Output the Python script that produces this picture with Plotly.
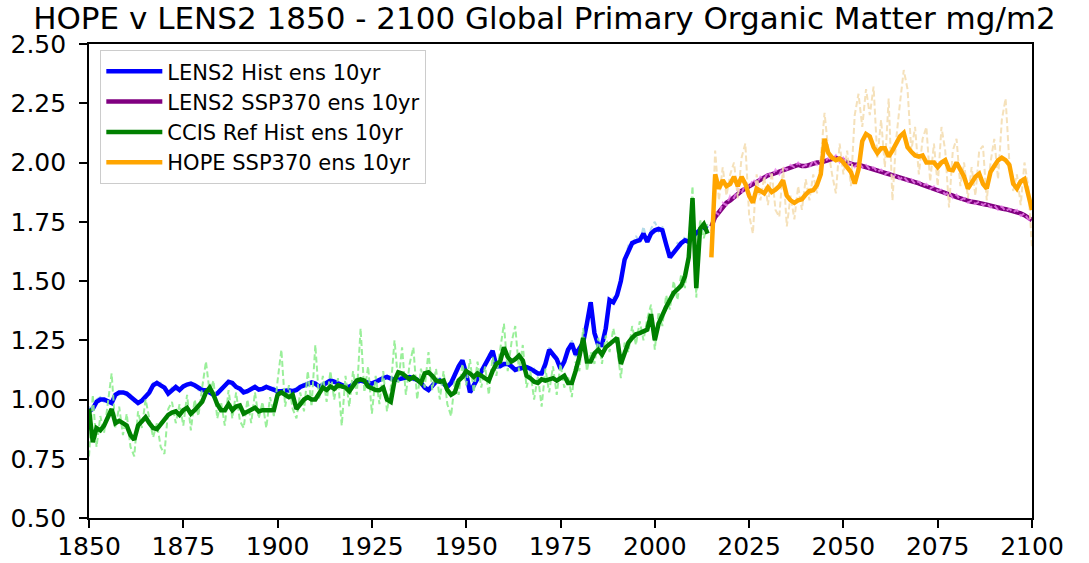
import plotly.graph_objects as go

# ---- data -------------------------------------------------------------
hist_years = list(range(1850, 2015))
ssp_years = list(range(2015, 2101))

lens2_hist_10yr = [
    0.95, 0.96, 0.99, 1.00, 1.00, 0.99, 0.985, 1.02, 1.03, 1.03,
    1.025, 1.012, 1.00, 0.985, 0.995, 1.01, 1.03, 1.06, 1.07, 1.06,
    1.05, 1.025, 1.04, 1.053, 1.04, 1.055, 1.063, 1.067, 1.06, 1.05,
    1.04, 1.039, 1.03, 1.02, 1.025, 1.04, 1.06, 1.075, 1.07, 1.053,
    1.046, 1.03, 1.035, 1.046, 1.053, 1.042, 1.045, 1.053, 1.046, 1.042,
    1.035, 1.035, 1.039, 1.039, 1.035, 1.04, 1.053, 1.06, 1.07, 1.072,
    1.067, 1.055, 1.06, 1.07, 1.08, 1.075, 1.067, 1.06, 1.055, 1.053,
    1.065, 1.075, 1.08, 1.075, 1.07, 1.067, 1.075, 1.085, 1.09, 1.095,
    1.09, 1.082, 1.085, 1.09, 1.093, 1.095, 1.09, 1.083, 1.07, 1.05,
    1.04, 1.06, 1.075, 1.08, 1.065, 1.053, 1.07, 1.11, 1.14, 1.165,
    1.11, 1.03, 1.06, 1.09, 1.12, 1.15, 1.18, 1.205, 1.14, 1.14,
    1.15, 1.15, 1.14, 1.125, 1.13, 1.135, 1.137, 1.13, 1.12, 1.11,
    1.11, 1.15, 1.21, 1.19, 1.17, 1.13, 1.16, 1.21, 1.236, 1.19,
    1.215, 1.24, 1.32, 1.41, 1.28, 1.23, 1.23, 1.30, 1.42, 1.41,
    1.44, 1.50, 1.59, 1.63, 1.66, 1.667, 1.672, 1.70, 1.665, 1.70,
    1.714, 1.72, 1.714, 1.655, 1.60, 1.62, 1.64, 1.66, 1.672, 1.665,
    1.69, 1.70, 1.715, 1.728, 1.72,
]

lens2_hist_annual = [
    0.97, 0.95, 1.00, 1.01, 0.99, 1.00, 0.98, 1.03, 1.02, 1.04,
    1.01, 1.02, 0.99, 0.99, 1.00, 1.02, 1.02, 1.07, 1.06, 1.07,
    1.04, 1.03, 1.05, 1.04, 1.05, 1.05, 1.07, 1.06, 1.07, 1.04,
    1.05, 1.03, 1.04, 1.01, 1.03, 1.05, 1.05, 1.08, 1.06, 1.06,
    1.04, 1.04, 1.03, 1.05, 1.06, 1.04, 1.05, 1.06, 1.04, 1.05,
    1.03, 1.04, 1.04, 1.03, 1.04, 1.05, 1.05, 1.07, 1.06, 1.08,
    1.06, 1.06, 1.07, 1.06, 1.09, 1.07, 1.07, 1.05, 1.06, 1.05,
    1.07, 1.07, 1.09, 1.07, 1.08, 1.06, 1.08, 1.08, 1.10, 1.09,
    1.10, 1.08, 1.09, 1.10, 1.09, 1.10, 1.08, 1.09, 1.06, 1.06,
    1.03, 1.07, 1.07, 1.09, 1.06, 1.06, 1.08, 1.10, 1.15, 1.17,
    1.10, 1.04, 1.07, 1.08, 1.13, 1.14, 1.19, 1.21, 1.13, 1.15,
    1.14, 1.16, 1.13, 1.13, 1.14, 1.13, 1.15, 1.12, 1.13, 1.10,
    1.12, 1.14, 1.22, 1.18, 1.18, 1.12, 1.17, 1.20, 1.25, 1.18,
    1.22, 1.25, 1.31, 1.42, 1.27, 1.24, 1.22, 1.31, 1.41, 1.43,
    1.43, 1.52, 1.58, 1.65, 1.65, 1.69, 1.66, 1.73, 1.66, 1.72,
    1.75, 1.71, 1.73, 1.64, 1.61, 1.61, 1.66, 1.65, 1.69, 1.66,
    1.70, 1.69, 1.73, 1.72, 1.74,
]

ccis_hist_10yr = [
    0.96, 0.82, 0.88, 0.87, 0.89, 0.93, 0.96, 0.90, 0.91, 0.90,
    0.89, 0.85, 0.83, 0.89, 0.91, 0.925, 0.90, 0.88, 0.875, 0.895,
    0.91, 0.935, 0.945, 0.95, 0.935, 0.955, 0.965, 0.94, 0.955, 0.97,
    0.99, 1.03, 1.05, 1.02, 0.98, 0.955, 0.955, 0.98, 0.955, 0.97,
    0.975, 0.94, 0.95, 0.955, 0.965, 0.95, 0.955, 0.955, 0.955, 0.955,
    1.02, 1.03, 1.02, 1.01, 1.02, 0.96, 0.98, 1.00, 1.01, 1.00,
    1.00, 1.03, 1.05, 1.04, 1.055, 1.045, 1.06, 1.055, 1.05, 1.035,
    1.06, 1.08, 1.085, 1.08, 1.055, 1.048, 1.04, 1.039, 1.05, 1.00,
    0.99, 1.08, 1.115, 1.11, 1.10, 1.085, 1.095, 1.08, 1.07, 1.11,
    1.115, 1.10, 1.08, 1.075, 1.08, 1.04, 1.02, 1.03, 1.08, 1.095,
    1.12, 1.11, 1.095, 1.11, 1.10, 1.095, 1.08, 1.12, 1.15, 1.16,
    1.22, 1.18, 1.16, 1.17, 1.185, 1.165, 1.10, 1.09, 1.075, 1.07,
    1.085, 1.08, 1.085, 1.09, 1.08, 1.09, 1.10, 1.07, 1.07, 1.12,
    1.18, 1.26, 1.16, 1.16, 1.195, 1.21, 1.19, 1.22, 1.235, 1.25,
    1.26, 1.15, 1.19, 1.24, 1.26, 1.275, 1.28, 1.29, 1.295, 1.36,
    1.25, 1.32, 1.36, 1.39, 1.42, 1.45, 1.465, 1.48, 1.52, 1.60,
    1.85, 1.47, 1.72, 1.74, 1.70,
]

ccis_hist_annual = [
    0.76, 1.02, 0.80, 0.93, 0.86, 0.99, 1.11, 0.88, 0.97, 0.85,
    0.94, 0.80, 0.76, 0.95, 0.88, 1.00, 0.92, 0.84, 0.90, 0.80,
    0.77, 0.96, 0.99, 0.90, 0.98, 0.89, 1.02, 0.87, 1.00, 0.93,
    1.05, 1.16, 1.03, 1.08, 0.92, 0.99, 0.89, 1.04, 0.92, 1.03,
    0.91, 0.88, 1.00, 0.90, 1.03, 0.92, 0.99, 0.88, 1.01, 0.93,
    1.08, 1.21, 0.97, 1.06, 0.96, 0.92, 1.03, 0.95, 1.12, 0.97,
    1.23, 1.00, 1.10, 0.99, 1.12, 1.00, 1.09, 0.89, 1.10, 0.97,
    1.12, 1.02, 1.30, 1.03, 1.14, 0.94, 1.10, 0.98, 1.12, 0.95,
    1.05, 1.25, 1.07, 1.22, 1.02, 1.15, 1.22, 1.00, 1.13, 1.05,
    1.20, 1.04, 1.13, 1.00, 1.12, 0.98, 0.93, 1.08, 1.02, 1.15,
    1.06, 1.17, 1.03, 1.16, 1.05, 1.14, 1.02, 1.18, 1.10, 1.22,
    1.32, 1.12, 1.24, 1.31, 1.12, 1.23, 1.05, 1.12, 1.00, 1.10,
    0.97, 1.13, 1.03, 1.14, 1.02, 1.15, 1.05, 1.10, 1.01, 1.16,
    1.12, 1.30, 1.12, 1.20, 1.15, 1.26, 1.15, 1.27, 1.20, 1.30,
    1.22, 1.09, 1.24, 1.20, 1.31, 1.23, 1.33, 1.25, 1.34, 1.40,
    1.21, 1.37, 1.31, 1.44, 1.38, 1.50, 1.42, 1.53, 1.47, 1.65,
    1.90, 1.43, 1.76, 1.68, 1.75,
]

lens2_ssp370_10yr = [
    1.73, 1.77, 1.79, 1.81, 1.83,
    1.84, 1.855, 1.87, 1.88, 1.89, 1.90, 1.91, 1.918, 1.93, 1.94,
    1.946, 1.95, 1.956, 1.962, 1.967, 1.975, 1.981, 1.988, 1.99, 1.985,
    1.985, 1.99, 1.995, 2.0, 2.0, 2.005, 2.01, 2.015, 2.02, 2.015,
    2.01, 2.0, 1.995, 1.99, 1.99, 1.985, 1.98, 1.975, 1.97, 1.965,
    1.96, 1.957, 1.953, 1.948, 1.943, 1.94, 1.935, 1.93, 1.925, 1.918,
    1.912, 1.905, 1.9, 1.895, 1.89, 1.885, 1.878, 1.872, 1.866, 1.86,
    1.854, 1.848, 1.842, 1.836, 1.834, 1.832, 1.83, 1.827, 1.822, 1.818,
    1.813, 1.81, 1.806, 1.803, 1.799, 1.795, 1.79, 1.785, 1.778, 1.768,
    1.757,
]

lens2_ssp370_annual = [
    1.71, 1.79, 1.78, 1.83, 1.82,
    1.86, 1.85, 1.89, 1.87, 1.91, 1.89, 1.93, 1.91, 1.94, 1.93,
    1.96, 1.94, 1.97, 1.95, 1.98, 1.97, 1.99, 1.98, 2.00, 1.98,
    1.99, 1.98, 2.01, 1.99, 2.01, 2.00, 2.02, 2.01, 2.03, 2.00,
    2.02, 1.99, 2.00, 1.98, 2.00, 1.98, 1.99, 1.97, 1.98, 1.96,
    1.97, 1.95, 1.96, 1.94, 1.95, 1.93, 1.94, 1.92, 1.93, 1.91,
    1.92, 1.90, 1.91, 1.89, 1.90, 1.88, 1.885, 1.865, 1.875, 1.85,
    1.865, 1.84, 1.85, 1.83, 1.84, 1.825, 1.835, 1.82, 1.83, 1.81,
    1.82, 1.80, 1.815, 1.795, 1.805, 1.79, 1.80, 1.775, 1.785, 1.76,
    1.75,
]

hope_ssp370_10yr = [
    1.60, 1.95, 1.89, 1.925, 1.90,
    1.91, 1.94, 1.90, 1.94, 1.91, 1.86, 1.83, 1.89, 1.88, 1.87,
    1.895, 1.875, 1.885, 1.90, 1.925, 1.86, 1.84, 1.83, 1.84, 1.845,
    1.865, 1.88, 1.883, 1.905, 1.95, 2.10, 2.04, 2.02, 2.01, 2.016,
    2.0, 1.98, 1.96, 1.911, 1.97, 2.09, 2.12, 2.11, 2.065, 2.04,
    2.06, 2.06, 2.025, 2.05, 2.08, 2.11, 2.125, 2.065, 2.045, 2.03,
    2.025, 2.03, 2.0, 2.0, 2.0, 1.98, 2.0, 2.01, 1.97, 1.967,
    2.0, 1.97, 1.94, 1.89, 1.92, 1.94, 1.953, 1.91, 1.89, 1.96,
    1.985, 2.009, 2.02, 2.01, 1.99, 1.911, 1.89, 1.92, 1.93, 1.86,
    1.80,
]

hope_ssp370_annual = [
    1.62, 2.05, 1.84, 1.98, 1.86,
    1.95, 2.00, 1.85, 2.02, 2.08, 1.78, 1.70, 1.95, 1.84, 1.94,
    1.82, 1.96, 1.80, 1.77, 1.98, 1.73, 1.86, 1.76, 1.90, 1.80,
    1.93, 1.84, 1.95, 1.87, 2.02, 2.21, 2.05, 1.95, 1.87, 2.08,
    1.95, 2.05, 1.90, 2.20, 2.29, 2.15, 2.31, 2.20, 2.32, 2.02,
    2.18, 1.98, 2.27, 1.84, 2.10, 2.25, 2.39, 2.31, 2.05, 2.15,
    1.95, 2.10, 2.15, 1.92, 2.08, 1.90, 2.15, 2.05, 1.81, 2.05,
    2.10, 1.90, 2.00, 1.85, 1.98, 1.86, 2.05, 2.07, 1.84, 2.00,
    2.10, 1.93, 2.18, 2.27, 2.00, 1.88, 1.95, 1.82, 2.00, 1.90,
    1.64,
]

x_ticks = list(range(1850, 2101, 25))
y_ticks = [0.50, 0.75, 1.00, 1.25, 1.50, 1.75, 2.00, 2.25, 2.50]

title_text = "HOPE v LENS2 1850 - 2100 Global Primary Organic Matter mg/m2"

# ---- figure -----------------------------------------------------------
FONT = "DejaVu Sans"
THICK = 4.5
THIN = 2
DASH = "6px,3px"

fig = go.Figure()

# LENS2 historical: annual ensemble dashed, smoothed line over it
fig.add_trace(go.Scatter(x=hist_years, y=lens2_hist_annual, mode="lines",
                         showlegend=False, opacity=0.9,
                         line=dict(color="#add8e6", width=THIN, dash=DASH)))
fig.add_trace(go.Scatter(x=hist_years, y=lens2_hist_10yr, mode="lines",
                         name="LENS2 Hist ens 10yr", legendrank=1,
                         line=dict(color="#0000ff", width=THICK)))

# CCIS reference: annual dashed underneath the smoothed line
fig.add_trace(go.Scatter(x=hist_years, y=ccis_hist_annual, mode="lines",
                         showlegend=False, opacity=0.9,
                         line=dict(color="#90ee90", width=THIN, dash=DASH)))
fig.add_trace(go.Scatter(x=hist_years, y=ccis_hist_10yr, mode="lines",
                         name="CCIS Ref Hist ens 10yr", legendrank=3,
                         line=dict(color="#008000", width=THICK)))

# LENS2 SSP370
fig.add_trace(go.Scatter(x=ssp_years, y=lens2_ssp370_10yr, mode="lines",
                         name="LENS2 SSP370 ens 10yr", legendrank=2,
                         line=dict(color="#800080", width=THICK)))
fig.add_trace(go.Scatter(x=ssp_years, y=lens2_ssp370_annual, mode="lines",
                         showlegend=False, opacity=0.8,
                         line=dict(color="#ee82ee", width=THIN, dash=DASH)))

# HOPE SSP370
fig.add_trace(go.Scatter(x=ssp_years, y=hope_ssp370_annual, mode="lines",
                         showlegend=False, opacity=0.9,
                         line=dict(color="#f5deb3", width=THIN, dash=DASH)))
fig.add_trace(go.Scatter(x=ssp_years, y=hope_ssp370_10yr, mode="lines",
                         name="HOPE SSP370 ens 10yr", legendrank=4,
                         line=dict(color="#ffa500", width=THICK)))

axis_common = dict(
    showline=True, linecolor="black", linewidth=1.6, mirror=True,
    ticks="outside", ticklen=8, tickwidth=1.6, tickcolor="black",
    showgrid=False, zeroline=False, automargin=False,
    tickfont=dict(family=FONT, size=25, color="black"),
)

fig.update_xaxes(range=[1850, 2100], tickvals=x_ticks,
                 ticklabelstandoff=-3, **axis_common)
fig.update_yaxes(range=[0.5, 2.5], tickvals=y_ticks, tickformat=".2f",
                 ticklabelstandoff=8, **axis_common)

fig.update_layout(
    width=1089, height=563,
    margin=dict(l=89, r=57, t=44, b=45, autoexpand=False),
    paper_bgcolor="white", plot_bgcolor="white",
    title=dict(text=title_text, x=0.5, xref="container", xanchor="center",
               y=0.967, yref="container", yanchor="middle",
               font=dict(family=FONT, size=31, color="black")),
    legend=dict(x=0.012, y=0.987, xanchor="left", yanchor="top",
                bgcolor="rgba(255,255,255,0.8)", bordercolor="#cccccc",
                borderwidth=1, itemwidth=56,
                font=dict(family=FONT, size=21, color="black"),
                traceorder="normal"),
    showlegend=True,
)

fig.write_html("out.html", config={"displayModeBar": False})
